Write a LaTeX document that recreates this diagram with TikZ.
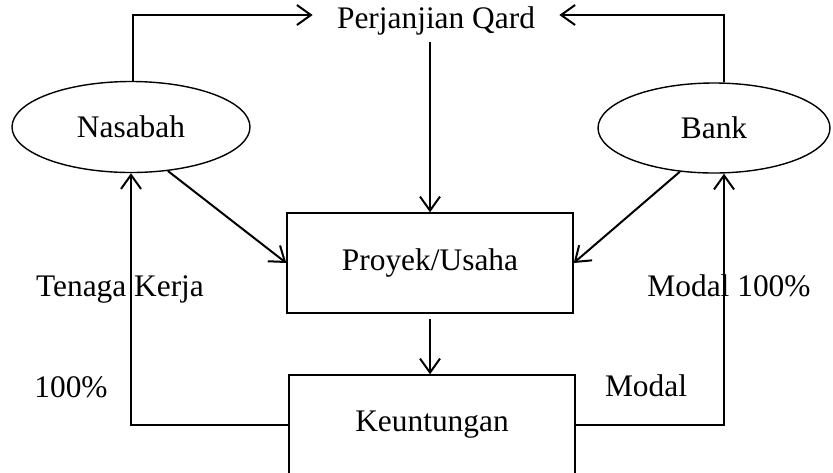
\documentclass[tikz,border=0pt]{standalone}
\usepackage{fontspec}
\setmainfont{Liberation Serif}
\usepackage{tikz}
\usetikzlibrary{positioning,arrows.meta,shapes.geometric,calc}

\begin{document}
\begin{tikzpicture}[x=0.5pt, y=-0.5pt,
  font=\fontsize{15.7}{18}\selectfont,
  >={Straight Barb[length=7pt,width=10pt]},
  pihak/.style={draw, ellipse, line width=0.7pt, inner sep=0pt},
  kotak/.style={draw, rectangle, line width=0.7pt, minimum width=143pt, minimum height=50pt, inner sep=0pt},
  alur/.style={->, line width=1pt}]
  \useasboundingbox (0,0) rectangle (833,472);

  % Parties
  \node[pihak, minimum width=119pt, minimum height=45.5pt] (nasabah) at (131,127) {Nasabah};
  \node[pihak, minimum width=116pt, minimum height=45pt] (bank) at (714,128) {Bank};

  % Contract
  \node[inner xsep=12pt] (qard) at (436,21) {Perjanjian Qard};

  % Boxes
  \node[kotak] (proyek) at (430,263) {Proyek/Usaha};
  \node[kotak] (untung) at (432,425) {Keuntungan};

  % Agreement lines
  \draw[alur] ([xshift=1pt]nasabah.north) |- ([yshift=3pt]qard.west);
  \draw[alur] ([xshift=5pt]bank.north) |- ([yshift=3pt]qard.east);
  \draw[alur] (proyek.north |- qard.south) -- (proyek.north);

  % Flows into the project
  \draw[alur] (nasabah.-50) -- (proyek.west);
  \draw[alur] (bank.-128) -- (proyek.east);
  \draw[alur, shorten <=2.5pt] (proyek.south) -- (proyek.south |- untung.north);

  % Profit sharing
  \draw[alur] (untung.west) -| (nasabah.south);
  \draw[alur] (untung.east) -| ([xshift=5pt]bank.south);

  % Labels
  \node (tenaga) at (120,289) {Tenaga Kerja};
  \node (persen) at (71,387) {100\%};
  \node (modalpenuh) at (729,286) {Modal 100\%};
  \node (modal) at (646,386) {Modal};

\end{tikzpicture}
\end{document}
